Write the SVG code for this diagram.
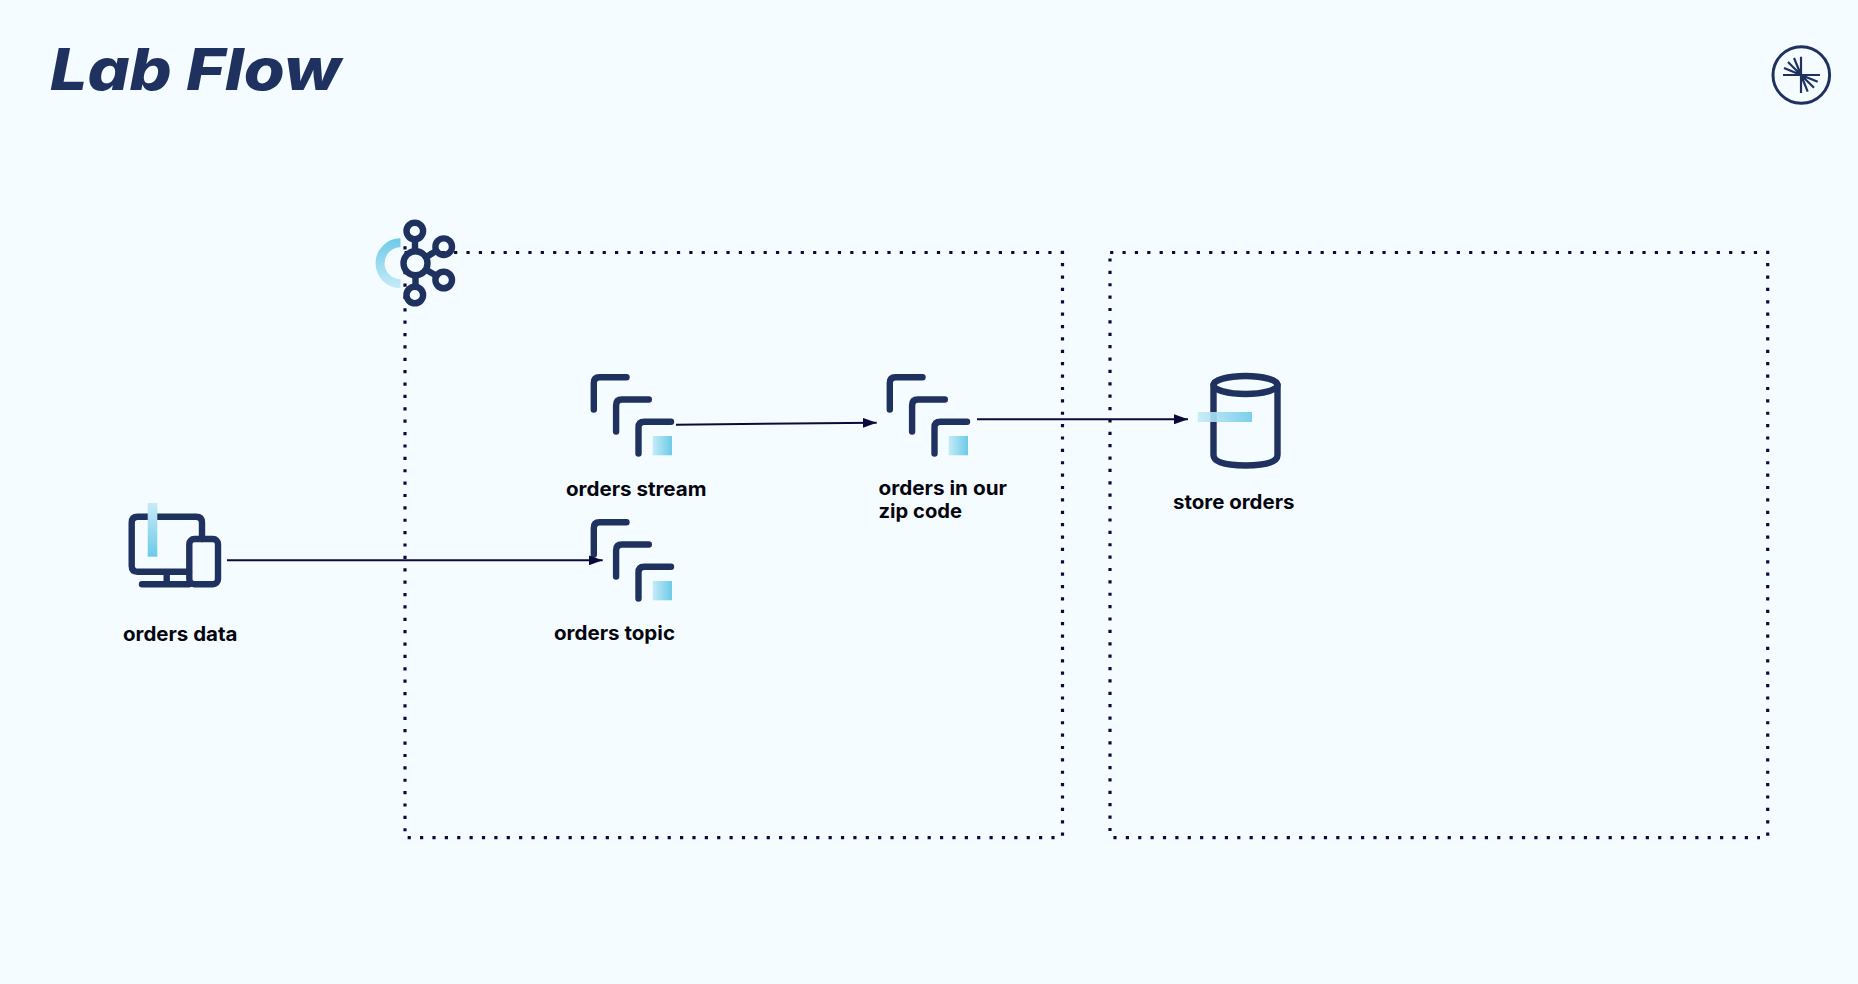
<svg xmlns="http://www.w3.org/2000/svg" width="1858" height="984" viewBox="0 0 1858 984">
<style>
.ic{fill:none;stroke:#1f315f;stroke-width:6.4;stroke-linecap:round;stroke-linejoin:round}
.box{fill:none;stroke:#0b0b3b;stroke-width:3.2;stroke-dasharray:3.2 9.18}
.conn{fill:none;stroke:#0b0b3b;stroke-width:2;marker-end:url(#arrow)}
.lb{font-family:"Inter","Liberation Sans",sans-serif;font-weight:700;font-size:19.5px;fill:#050510}
</style>
<defs>
<marker id="arrow" markerUnits="userSpaceOnUse" markerWidth="14" markerHeight="10" refX="14" refY="5" orient="auto"><path d="M0 0L14 5L0 10Z" fill="#0b0b3b"/></marker>
<linearGradient id="gh"><stop offset="0" stop-color="#c5ebf7"/><stop offset="1" stop-color="#6dcae8"/></linearGradient>
<linearGradient id="gv" x1="0" y1="0" x2="0" y2="1"><stop offset="0" stop-color="#c5ebf7"/><stop offset="1" stop-color="#6dcae8"/></linearGradient>
<linearGradient id="ga" gradientUnits="userSpaceOnUse" x1="0" y1="238" x2="0" y2="288"><stop offset="0" stop-color="#6dcae8"/><stop offset="1" stop-color="#c5ebf7"/></linearGradient>
<g id="stack">
<path class="ic" d="M593.8 409.5V383Q593.8 377.2 599.5 377.2H626.5"/>
<path class="ic" d="M616.1 431.5V405.2Q616.1 399.5 621.8 399.5H648.8"/>
<path class="ic" d="M638.5 453.5V427.5Q638.5 421.8 644.2 421.8H671"/>
<rect x="652.7" y="436" width="19.3" height="19.3" fill="url(#gh)"/>
</g>
</defs>
<rect width="1858" height="984" fill="#f5fcff"/>
<text x="50" y="90" font-family="Inter,'Liberation Sans',sans-serif" font-weight="800" font-style="italic" font-size="58" fill="#1f315f" textLength="291" lengthAdjust="spacingAndGlyphs">Lab Flow</text>
<g id="logo">
<circle cx="1801.3" cy="75" r="28.3" fill="none" stroke="#1f315f" stroke-width="3"/>
<path fill="none" stroke="#1f315f" stroke-width="2.2" d="M1801 56.7V93M1783 75H1820M1801 75L1794 58M1801 75L1788 62M1801 75L1784 68M1801 75L1817.7 81.7M1801 75L1814 87.7M1801 75L1807.7 91.7"/>
</g>
<g id="clusters">
<path class="box" d="M1063.9 252.5H404M1062.5 250.7V836M1054.6 837.6H404M405 246.3V837"/>
<path class="box" d="M1110 258.4V832M1113.4 837.6H1760M1110.1 252.5H1769M1767.7 250.7V836"/>
</g>
<g id="kafka">
<path fill="none" stroke="url(#ga)" stroke-width="9" d="M400.5 242.8A20.5 20.5 0 0 0 400.5 283.8"/>
<g class="ic">
<circle cx="415.5" cy="263.3" r="12"/>
<circle cx="414.8" cy="231" r="8.3"/>
<circle cx="443.7" cy="246.7" r="8.3"/>
<circle cx="443.7" cy="280" r="8.3"/>
<circle cx="414.8" cy="295" r="8.3"/>
<path d="M415 240V251M415.5 275.5V286M426.5 257L436 251M426.5 270L436 275.5"/>
</g>
</g>
<g id="orders-data">
<path class="ic" d="M189 571.7H137.7Q131.7 571.7 131.7 565.7V522.7Q131.7 516.7 137.7 516.7H196Q202 516.7 202 522.7V539M166.7 572V584M142 584.2H189"/>
<rect class="ic" x="189.3" y="539" width="28.7" height="45.3" rx="5"/>
<rect x="147.7" y="503" width="9.6" height="53.7" fill="url(#gv)"/>
<text class="lb" x="123" y="641" textLength="114.5" lengthAdjust="spacingAndGlyphs">orders data</text>
</g>
<g id="orders-stream">
<use href="#stack"/>
<text class="lb" x="566" y="495.7" textLength="140.5" lengthAdjust="spacingAndGlyphs">orders stream</text>
</g>
<g id="orders-topic">
<use href="#stack" y="145"/>
<text class="lb" x="554" y="640" textLength="121" lengthAdjust="spacingAndGlyphs">orders topic</text>
</g>
<g id="orders-zip">
<use href="#stack" x="296"/>
<text class="lb" x="878.5" y="495" textLength="128.5" lengthAdjust="spacingAndGlyphs">orders in our</text>
<text class="lb" x="878.5" y="518" textLength="83.5" lengthAdjust="spacingAndGlyphs">zip code</text>
</g>
<g id="store-orders">
<ellipse class="ic" cx="1245.5" cy="385" rx="32" ry="9"/>
<path class="ic" d="M1213.5 385V455Q1213.5 465.5 1245.5 465.5Q1277.5 465.5 1277.5 455V385"/>
<rect x="1197.7" y="412" width="54.3" height="10" fill="url(#gh)" opacity=".9"/>
<text class="lb" x="1173" y="509" textLength="121.5" lengthAdjust="spacingAndGlyphs">store orders</text>
</g>
<g id="connectors">
<path class="conn" d="M227 560.3H602.7"/>
<path class="conn" d="M676 424.7L876.7 422.7"/>
<path class="conn" d="M977 419.3H1188"/>
</g>
</svg>
